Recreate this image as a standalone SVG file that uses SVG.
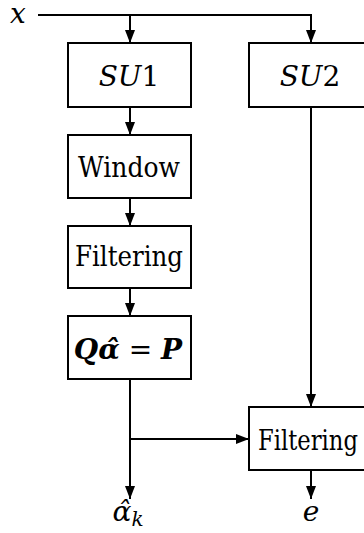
<svg xmlns="http://www.w3.org/2000/svg" width="364" height="533" viewBox="0 0 364 533">
<style>
.box{fill:#fff;stroke:#000;stroke-width:2}
.ln{fill:none;stroke:#000;stroke-width:2}
text{font-family:'DejaVu Serif','Liberation Serif',serif;font-size:28px;fill:#000;text-anchor:middle}
.m{font-style:italic}
</style>
<defs>
<marker id="ah" markerUnits="userSpaceOnUse" markerWidth="14" markerHeight="12" refX="13" refY="5" orient="auto">
<path d="M0,0 L13,5 L0,10 z" fill="#000"/>
</marker>
</defs>
<g id="connectors">
<path class="ln" d="M38,15 H311 V43" marker-end="url(#ah)"/>
<path class="ln" d="M130,15 V43" marker-end="url(#ah)"/>
<path class="ln" d="M130,107 V135" marker-end="url(#ah)"/>
<path class="ln" d="M130,198 V226" marker-end="url(#ah)"/>
<path class="ln" d="M130,288 V316" marker-end="url(#ah)"/>
<path class="ln" d="M130,379 V499" marker-end="url(#ah)"/>
<path class="ln" d="M130,439 H249" marker-end="url(#ah)"/>
<path class="ln" d="M311,107 V407" marker-end="url(#ah)"/>
<path class="ln" d="M311,470 V499" marker-end="url(#ah)"/>
</g>
<g id="x-label"><text class="m" x="18" y="23">x</text></g>
<g id="su1"><rect class="box" x="68" y="43" width="123" height="64"/><text class="m" x="129" y="86">SU<tspan font-style="normal">1</tspan></text></g>
<g id="su2"><rect class="box" x="249" y="43" width="124" height="64"/><text class="m" x="310" y="86">SU<tspan font-style="normal">2</tspan></text></g>
<g id="window"><rect class="box" x="68" y="135" width="123" height="63"/><text x="129" y="177" textLength="102" lengthAdjust="spacingAndGlyphs">Window</text></g>
<g id="filtering1"><rect class="box" x="68" y="226" width="123" height="62"/><text x="129" y="266" textLength="108" lengthAdjust="spacingAndGlyphs">Filtering</text></g>
<g id="solve"><rect class="box" x="68" y="316" width="123" height="63"/><text x="128" y="359"><tspan font-style="italic" font-weight="bold">Qα̂</tspan> = <tspan font-style="italic" font-weight="bold">P</tspan></text></g>
<g id="filtering2"><rect class="box" x="249" y="407" width="124" height="63"/><text x="308" y="450" textLength="100" lengthAdjust="spacingAndGlyphs">Filtering</text></g>
<g id="alpha-label"><text class="m" x="128" y="521">α̂<tspan font-size="20" dy="5">k</tspan></text></g>
<g id="e-label"><text class="m" x="311" y="521">e</text></g>
</svg>
